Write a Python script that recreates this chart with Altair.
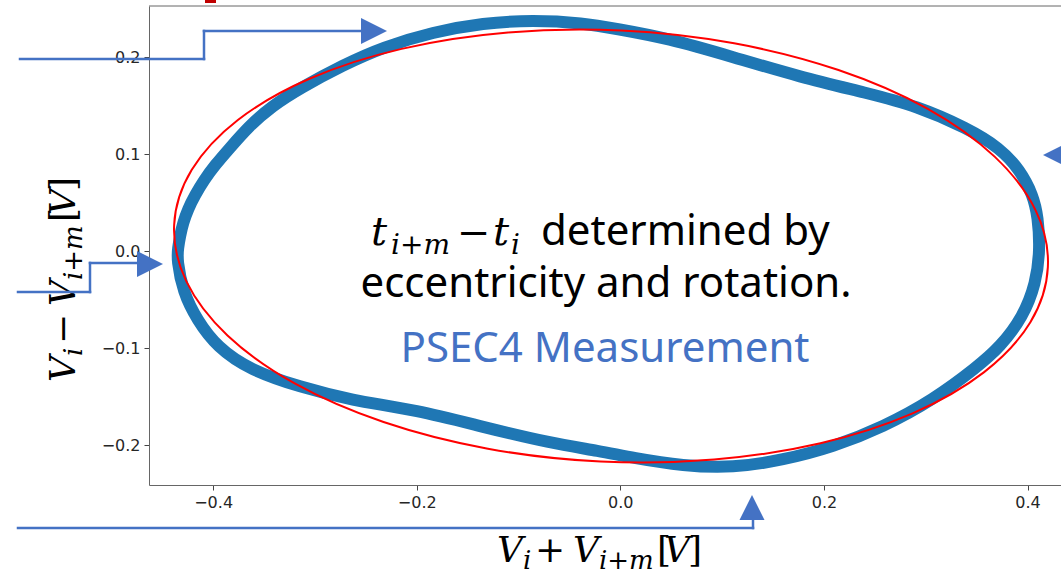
import altair as alt
import pandas as pd

# ---- data (volts) ----
# centre line of the measured PSEC4 scatter band, traced clockwise
blue_x = [-0.4355, -0.4345, -0.4325, -0.4296, -0.4247, -0.4178, -0.4089, -0.3981, -0.3844, -0.3647,
          -0.3421, -0.3146, -0.2724, -0.2331, -0.1840, -0.1349, -0.0858, -0.0366, -0.0032, 0.0459,
          0.1107, 0.1765, 0.2423, 0.2915, 0.3406, 0.3730, 0.3926, 0.4054, 0.4103, 0.4123,
          0.4083, 0.3956, 0.3730, 0.3504, 0.3072, 0.2581, 0.2089, 0.1598, 0.1107, 0.0616,
          0.0125, -0.0199, -0.0691, -0.1349, -0.1997, -0.2655, -0.3146, -0.3637, -0.3962, -0.4158,
          -0.4296]
blue_y = [-0.0093, 0.0031, 0.0155, 0.0289, 0.0433, 0.0577, 0.0732, 0.0887, 0.1052, 0.1289,
          0.1495, 0.1680, 0.1918, 0.2103, 0.2258, 0.2351, 0.2381, 0.2351, 0.2289, 0.2196,
          0.2000, 0.1794, 0.1629, 0.1495, 0.1268, 0.1062, 0.0835, 0.0577, 0.0351, 0.0010,
          -0.0330, -0.0680, -0.0990, -0.1196, -0.1536, -0.1814, -0.2021, -0.2155, -0.2237, -0.2216,
          -0.2134, -0.2062, -0.1979, -0.1814, -0.1639, -0.1536, -0.1402, -0.1227, -0.0990, -0.0711,
          -0.0423]
# fitted ellipse (red), points read around the curve
red_x = [0.4200, 0.4028, 0.3574, 0.2871, 0.1966, 0.0921, -0.0194, -0.1301,
         -0.2326, -0.3199, -0.3859, -0.4263, -0.4383, -0.4210, -0.3757, -0.3054,
         -0.2149, -0.1103, 0.0011, 0.1118, 0.2143, 0.3016, 0.3677, 0.4081]
red_y = [-0.0166, -0.0734, -0.1248, -0.1673, -0.1981, -0.2150, -0.2170, -0.2038,
         -0.1763, -0.1365, -0.0870, -0.0313, 0.0269, 0.0837, 0.1351, 0.1776,
         0.2084, 0.2253, 0.2273, 0.2141, 0.1866, 0.1468, 0.0973, 0.0416]

x_ticks = [-0.4, -0.2, 0.0, 0.2, 0.4]
y_ticks = [-0.2, -0.1, 0.0, 0.1, 0.2]
x_domain = [-0.4630, 0.4329]
y_domain = [-0.2412, 0.2526]

# ---- layout ----
L, T = 149, 6
W, H = 912, 479
ARROW = "#4472C4"
MATH = "DejaVu Serif"
SANS = "Noto Sans"
BLUE = "#1f77b4"

xs = alt.Scale(domain=x_domain, nice=False, zero=False)
ys = alt.Scale(domain=y_domain, nice=False, zero=False)
axis_common = dict(title=None, grid=False, format=".1f", labelFont="DejaVu Sans",
                   labelFontSize=16, labelColor="#262626", tickColor="#444444",
                   tickSize=5, tickWidth=1, domainColor="#666666", domainWidth=1,
                   labelPadding=4, labelFlush=False, labelOverlap=False)
xaxis = alt.Axis(values=x_ticks, **axis_common)
yaxis = alt.Axis(values=y_ticks, **axis_common)

blue_df = pd.DataFrame({"x": blue_x, "y": blue_y, "i": list(range(len(blue_x)))})
red_df = pd.DataFrame({"x": red_x, "y": red_y, "i": list(range(len(red_x)))})

blue = alt.Chart(blue_df).mark_line(
    interpolate="basis-closed", color=BLUE, strokeWidth=12, strokeJoin="round"
).encode(
    x=alt.X("x:Q", scale=xs, axis=xaxis),
    y=alt.Y("y:Q", scale=ys, axis=yaxis),
    order="i:Q",
)
red = alt.Chart(red_df).mark_line(
    interpolate="cardinal-closed", color="#ff0000", strokeWidth=2
).encode(
    x=alt.X("x:Q", scale=xs),
    y=alt.Y("y:Q", scale=ys),
    order="i:Q",
)

ONE = alt.Data(values=[{"a": 1}])


def txt(text, px, py, size, font=MATH, style="italic", color="black", angle=0, align="left"):
    return alt.Chart(ONE).mark_text(
        text=text, font=font, fontSize=size, fontStyle=style, color=color,
        angle=angle, align=align, baseline="alphabetic"
    ).encode(x=alt.value(px - L), y=alt.value(py - T))


def seg(x1, y1, x2, y2):
    return alt.Chart(ONE).mark_rule(color=ARROW, strokeWidth=2.5, strokeCap="square").encode(
        x=alt.value(x1 - L), y=alt.value(y1 - T), x2=alt.value(x2 - L), y2=alt.value(y2 - T))


def head(cx, cy, path, size):
    return alt.Chart(ONE).mark_point(
        shape=path, filled=True, color=ARROW, opacity=1, size=size, strokeWidth=0
    ).encode(x=alt.value(cx - L), y=alt.value(cy - T))


RIGHT = "M-1,-1L1,0L-1,1Z"
LEFT = "M1,-1L-1,0L1,1Z"
UP = "M-1,1L0,-1L1,1Z"

layers = [blue, red]

# centre annotation
layers += [
    txt("t", 371, 245, 40),
    txt("i+m", 391, 254, 28),
    txt("\u2212", 457, 246, 40, style="normal"),
    txt("t", 493, 245, 40),
    txt("i", 511, 254, 28),
    txt("determined by", 541, 245, 42, font=SANS, style="normal"),
    txt("eccentricity and rotation.", 606, 297, 42, font=SANS, style="normal", align="center"),
    txt("PSEC4 Measurement", 605, 362, 42, font=SANS, style="normal", color=ARROW, align="center"),
]

# x title: V_i + V_{i+m}[V]
bx, by = 497, 562
layers += [
    txt("V", bx, by, 36),
    txt("i", bx + 26, by + 7, 26),
    txt("+", bx + 38, by, 36, style="normal"),
    txt("V", bx + 76, by, 36),
    txt("i+m", bx + 102, by + 7, 26),
    txt("[", bx + 160, by, 36, style="normal"),
    txt("V", bx + 167, by, 36),
    txt("]", bx + 191, by, 36, style="normal"),
]

# y title: V_i - V_{i+m}[V], rotated
sx, sy = 75, 382
layers += [
    txt("V", sx, sy, 36, angle=270),
    txt("i", sx + 7, sy - 26, 26, angle=270),
    txt("\u2212", sx, sy - 38, 36, style="normal", angle=270),
    txt("V", sx, sy - 76, 36, angle=270),
    txt("i+m", sx + 7, sy - 102, 26, angle=270),
    txt("[", sx, sy - 160, 36, style="normal", angle=270),
    txt("V", sx, sy - 167, 36, angle=270),
    txt("]", sx, sy - 191, 36, style="normal", angle=270),
]

# arrows
layers += [
    seg(20, 59, 204, 59), seg(204, 59, 204, 31), seg(204, 31, 362, 31), head(374, 31, RIGHT, 676),
    seg(18, 292, 90, 292), seg(90, 292, 90, 263), seg(90, 263, 137, 263), head(150, 264, RIGHT, 676),
    head(1056, 155, LEFT, 676),
    seg(18, 528, 753, 528), seg(753, 528, 753, 519), head(752, 507.5, UP, 625),
]

# frame top edge and small red tab at the top
layers += [
    alt.Chart(ONE).mark_rule(color="#666666", strokeWidth=1).encode(
        x=alt.value(0), x2=alt.value(W), y=alt.value(0)),
    alt.Chart(ONE).mark_rect(color="#C00000").encode(
        x=alt.value(205 - L), x2=alt.value(216 - L), y=alt.value(0 - T), y2=alt.value(3 - T)),
]

chart = alt.layer(*layers).properties(
    width=W, height=H,
    padding={"left": L, "top": T, "right": 0, "bottom": 574 - T - H},
    autosize=alt.AutoSizeParams(type="none"),
    background="white",
).configure_view(stroke=None)

chart.save("out.html", embed_options={"renderer": "svg", "actions": False})
